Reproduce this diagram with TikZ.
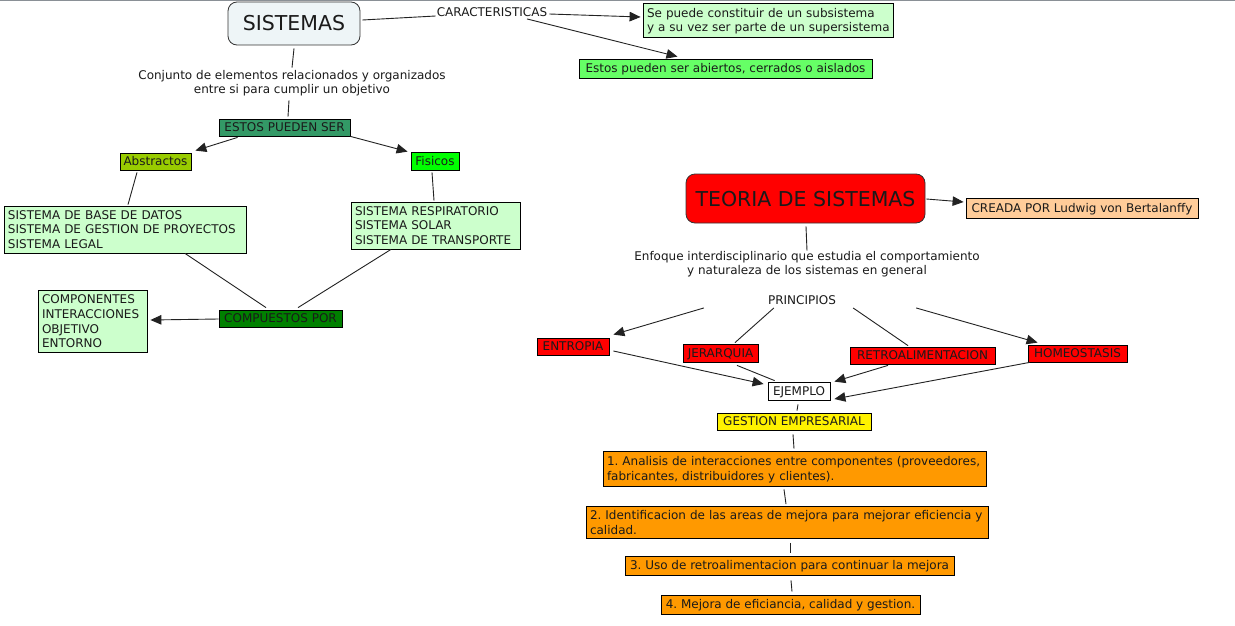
\documentclass[tikz,border=0pt]{standalone}
\usepackage{fontspec}
\setmainfont{DejaVu Sans}
\usetikzlibrary{arrows.meta,calc}
\definecolor{sisfill}{HTML}{EEF5F7}
\definecolor{sisline}{HTML}{333333}
\definecolor{lgreen}{HTML}{CCFFCC}
\definecolor{mgreen}{HTML}{66FF66}
\definecolor{sgreen}{HTML}{339966}
\definecolor{ygreen}{HTML}{99CC00}
\definecolor{bgreen}{HTML}{00FF00}
\definecolor{dgreen}{HTML}{008000}
\definecolor{peach}{HTML}{FFCC99}
\definecolor{orng}{HTML}{FF9900}
\definecolor{txtc}{HTML}{1A1A1A}
\definecolor{linec}{HTML}{222222}
\definecolor{framec}{HTML}{8A9096}
\newcommand\mlines[1]{\begin{tabular}{@{}l@{}}\rule{0pt}{13.1pt}#1\end{tabular}}
\begin{document}
\frenchspacing
\begin{tikzpicture}[x=1pt,y=-1pt,
  every node/.style={text=txtc},
  fnt/.style={font=\fontsize{12}{14.6}\selectfont\frenchspacing},
  lbl/.style={fnt, inner sep=1pt, text height=9pt, text depth=0.5pt},
  lblm/.style={fnt, inner sep=1pt, align=center},
  bx/.style={fnt, draw=black, line width=0.8pt, inner xsep=3pt, inner ysep=0pt, text height=9pt, text depth=0.5pt},
  mbx/.style={fnt, draw=black, line width=0.8pt, inner xsep=4pt, inner ysep=0pt, align=left},
  big/.style={draw=sisline, line width=0.8pt, rounded corners=9pt, font=\fontsize{20.5}{24}\selectfont, text height=15pt, text depth=0pt, inner sep=0pt},
  ln/.style={draw=linec, line width=0.9pt},
  ar/.style={ln, -{Triangle[length=11pt,width=9.5pt]}},
]
\useasboundingbox (0,0) rectangle (1235,626);
\fill[white] (0,0) rectangle (1235,626);
\draw[framec, line width=1.5pt] (0,0.75) -- (1235,0.75);

% left part
\node[big, fill=sisfill, minimum width=132pt, minimum height=43pt] (sis) at (294,23.5) {SISTEMAS};
\node[lbl] (car) at (492,12) {CARACTERISTICAS};
\node[mbx, fill=lgreen, text width=242pt, minimum height=34pt] (sub) at (768,20) {\mlines{Se puede constituir de un subsistema\\y a su vez ser parte de un supersistema}};
\node[bx, fill=mgreen, minimum width=293pt, minimum height=19pt] (abi) at (725.5,68.5) {Estos pueden ser abiertos, cerrados o aislados};
\node[lblm] (conj) at (292,83) {Conjunto de elementos relacionados y organizados\\entre si para cumplir un objetivo};
\node[bx, fill=sgreen, minimum width=131pt, minimum height=17pt] (estos) at (284.5,127.5) {ESTOS PUEDEN SER};
\node[bx, fill=ygreen, minimum width=71pt, minimum height=17pt] (abs) at (155.5,161.5) {Abstractos};
\node[bx, fill=bgreen, minimum width=48pt, minimum height=18pt] (fis) at (435,161) {Fisicos};
\node[mbx, fill=lgreen, text width=234pt, minimum height=47pt] (lst1) at (125,229.5) {\mlines{SISTEMA DE BASE DE DATOS\\SISTEMA DE GESTION DE PROYECTOS\\SISTEMA LEGAL}};
\node[mbx, fill=lgreen, text width=161pt, minimum height=47pt] (lst2) at (435.5,225.5) {\mlines{SISTEMA RESPIRATORIO\\SISTEMA SOLAR\\SISTEMA DE TRANSPORTE}};
\node[bx, fill=dgreen, minimum width=123pt, minimum height=17pt] (comp) at (280.5,318.5) {COMPUESTOS POR};
\node[mbx, fill=lgreen, text width=101pt, minimum height=61pt] (cmp) at (92.5,321.5) {\mlines{COMPONENTES\\INTERACCIONES\\OBJETIVO\\ENTORNO}};

% right part
\node[big, fill=red, minimum width=239pt, minimum height=49pt] (teo) at (805.5,198.5) {TEORIA DE SISTEMAS};
\node[bx, fill=peach, minimum width=232pt, minimum height=20pt] (cre) at (1082,208) {CREADA POR Ludwig von Bertalanffy};
\node[lblm] (enf) at (807,264) {Enfoque interdisciplinario que estudia el comportamiento\\y naturaleza de los sistemas en general};
\node[lbl] (pri) at (802,300) {PRINCIPIOS};
\node[bx, fill=red, minimum width=72pt, minimum height=17pt] (ent) at (573,346.5) {ENTROPIA};
\node[bx, fill=red, minimum width=75pt, minimum height=18pt] (jer) at (720.5,353) {JERARQUIA};
\node[bx, fill=red, minimum width=145pt, minimum height=17pt] (ret) at (922.5,355.5) {RETROALIMENTACION};
\node[bx, fill=red, minimum width=99pt, minimum height=17pt] (hom) at (1077.5,353.5) {HOMEOSTASIS};
\node[bx, fill=white, minimum width=62pt, minimum height=18pt] (eje) at (799,391) {EJEMPLO};
\node[bx, fill=yellow, minimum width=154pt, minimum height=17pt] (ges) at (794,421.5) {GESTION EMPRESARIAL};
\node[mbx, fill=orng, text width=375pt, minimum height=35pt] (b1) at (794.5,468.5) {\mlines{1. Analisis de interacciones entre componentes (proveedores,\\fabricantes, distribuidores y clientes).}};
\node[mbx, fill=orng, text width=394pt, minimum height=31pt] (b2) at (787,522.5) {\mlines{2. Identificacion de las areas de mejora para mejorar eficiencia y\\calidad.}};
\node[bx, fill=orng, minimum width=329pt, minimum height=19pt] (b3) at (789.5,565.5) {3. Uso de retroalimentacion para continuar la mejora};
\node[bx, fill=orng, minimum width=259pt, minimum height=19pt] (b4) at (790.5,604.5) {4. Mejora de eficiancia, calidad y gestion.};

% connectors left
\draw[ln] ($(sis.east)+(2,-3.5)$) -- ($(car.west)+(0,4)$);
\draw[ar] ($(car.east)+(1,2)$) -- ($(sub.west)+(-2,-3)$);
\draw[ar] ($(car.south)+(35,1)$) -- ($(abi.north)+(-48,-2)$);
\draw[ln] ($(sis.south)+(0,3)$) -- ($(conj.north)+(0,-1)$);
\draw[ln] ($(conj.south)+(-3,3)$) -- ($(estos.north)+(3.5,-2)$);
\draw[ar] ($(estos.south west)+(19,1)$) -- ($(abs.north east)+(4,-2)$);
\draw[ar] (estos.south east) -- ($(fis.north west)+(-3,0)$);
\draw[ln] ($(abs.south)+(-18.5,2)$) -- ($(lst1.north)+(3,-1)$);
\draw[ln] ($(fis.south)+(-3,2)$) -- ($(lst2.north)+(-1.5,-1)$);
\draw[ln] ($(lst1.south)+(60,0)$) -- ($(comp.north)+(-14.5,-2)$);
\draw[ln] ($(lst2.south)+(-44.5,0)$) -- ($(comp.north)+(17.5,-2)$);
\draw[ar] ($(comp.west)+(0,0.5)$) -- ($(cmp.east)+(3,-1.5)$);

% connectors right
\draw[ar] ($(teo.east)+(1,0.5)$) -- ($(cre.west)+(-2,-6)$);
\draw[ln] ($(teo.south)+(0.5,3)$) -- ($(enf.north)+(0,1)$);
\draw[ar] ($(pri.south west)+(-63,2)$) -- ($(ent.north east)+(4,-3)$);
\draw[ln] ($(pri.south west)+(7,2)$) -- ($(jer.north)+(14.5,-1)$);
\draw[ln] ($(pri.south east)+(16,2)$) -- ($(ret.north)+(-14.5,-1)$);
\draw[ar] ($(pri.south east)+(79,2)$) -- ($(hom.north west)+(10,-2)$);
\draw[ar] ($(ent.east)+(4,4.5)$) -- ($(eje.west)+(-4,-7)$);
\draw[ln] ($(jer.south)+(16.5,3)$) -- ($(eje.north west)+(7,-1)$);
\draw[ar] ($(ret.south)+(-34.5,1)$) -- ($(eje.north east)+(4,0)$);
\draw[ar] ($(hom.south west)+(2,0)$) -- ($(eje.east)+(4,8)$);
\draw[ln] ($(eje.south)+(-1,4)$) -- ($(ges.north)+(3,-2)$);
\draw[ln] ($(ges.south)+(-1,4)$) -- ($(b1.north)+(-0.5,-2)$);
\draw[ln] ($(b1.south)+(-10.5,3)$) -- ($(b2.north)+(-1,-2)$);
\draw[ln] ($(b2.south)+(3,4)$) -- ($(b3.north)+(0.5,-3)$);
\draw[ln] ($(b3.south)+(1.5,5)$) -- ($(b4.north)+(1.5,-3)$);
\end{tikzpicture}
\end{document}
